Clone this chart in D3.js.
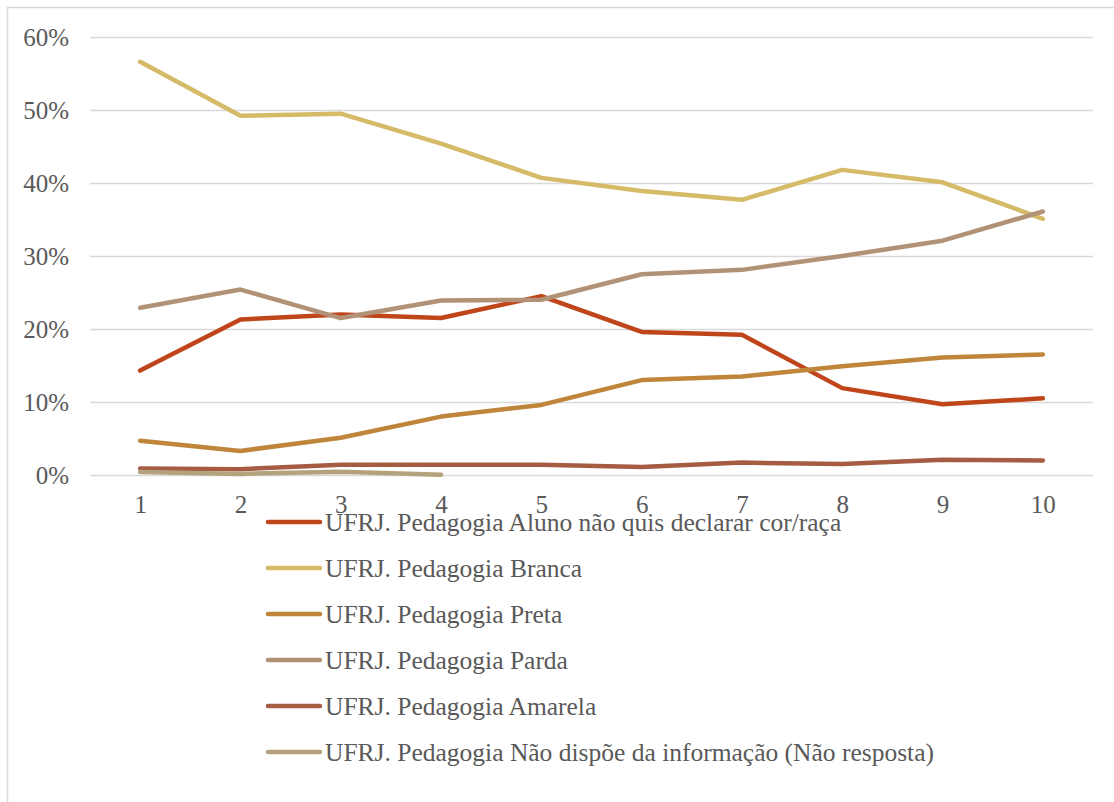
<!DOCTYPE html>
<html>
<head>
<meta charset="utf-8">
<script src="https://cdn.jsdelivr.net/npm/d3@7"></script>
<style>
  html, body { margin: 0; padding: 0; background: #fff; }
  svg { display: block; font-family: 'Liberation Serif', 'Times New Roman', serif; }
  svg text { font-family: 'Liberation Serif', 'Times New Roman', serif; fill: #595959; }
</style>
</head>
<body>
<svg id="chart" width="1114" height="802"></svg>
<script>
// Semesters on the x axis
const categories = ["1", "2", "3", "4", "5", "6", "7", "8", "9", "10"];

// Share of students by self-declared colour/race (fraction of total)
const alunoNaoDeclarou = [0.143, 0.213, 0.220, 0.215, 0.245, 0.196, 0.192, 0.119, 0.097, 0.105];
const branca           = [0.566, 0.492, 0.495, 0.454, 0.407, 0.389, 0.377, 0.418, 0.401, 0.351];
const preta            = [0.047, 0.033, 0.051, 0.080, 0.096, 0.130, 0.135, 0.149, 0.161, 0.165];
const parda            = [0.229, 0.254, 0.215, 0.239, 0.240, 0.275, 0.281, 0.300, 0.321, 0.361];
const amarela          = [0.009, 0.008, 0.014, 0.014, 0.014, 0.011, 0.017, 0.015, 0.021, 0.020];
const naoResposta      = [0.004, 0.0015, 0.0045, 0.0005, null, null, null, null, null, null];

const yTicks = [0, 0.1, 0.2, 0.3, 0.4, 0.5, 0.6];

const seriesNames = [
  "UFRJ. Pedagogia Aluno não quis declarar cor/raça",
  "UFRJ. Pedagogia Branca",
  "UFRJ. Pedagogia Preta",
  "UFRJ. Pedagogia Parda",
  "UFRJ. Pedagogia Amarela",
  "UFRJ. Pedagogia Não dispõe da informação (Não resposta)"
];
const seriesColors = ["#C1451B", "#D5BA68", "#BE853B", "#B29276", "#A65B43", "#B3A27C"];

const series = [alunoNaoDeclarou, branca, preta, parda, amarela, naoResposta].map((vals, i) => ({
  name: seriesNames[i],
  color: seriesColors[i],
  values: vals
}));

const svg = d3.select("#chart");

// Outer chart frame
svg.append("rect")
  .attr("x", 7.5).attr("y", 7.5)
  .attr("width", 1120).attr("height", 810)
  .attr("fill", "none").attr("stroke", "#D9D9D9").attr("stroke-width", 1.5);

const plot = { left: 90, right: 1093, top: 37, bottom: 475 };

const x = d3.scalePoint()
  .domain(categories)
  .range([plot.left, plot.right])
  .padding(0.5);

const y = d3.scaleLinear()
  .domain([0, 0.6])
  .range([plot.bottom, plot.top]);

// Horizontal gridlines and y labels
const yAxis = d3.axisLeft(y)
  .tickValues(yTicks)
  .tickSize(-(plot.right - plot.left))
  .tickPadding(21)
  .tickFormat(d3.format(".0%"));

const gy = svg.append("g")
  .attr("transform", `translate(${plot.left},0)`)
  .call(yAxis)
  .attr("font-family", null);
gy.select(".domain").remove();
gy.selectAll(".tick line").attr("stroke", "#D9D9D9").attr("stroke-width", 1.5);
gy.selectAll(".tick text")
  .attr("font-size", 25)
  .attr("dy", "0.34em");

// x labels
const xAxis = d3.axisBottom(x).tickSize(0).tickPadding(20);
const gx = svg.append("g")
  .attr("transform", `translate(0,${plot.bottom})`)
  .call(xAxis)
  .attr("font-family", null);
gx.select(".domain").remove();
gx.selectAll(".tick text")
  .attr("font-size", 25);

// Series lines
const line = d3.line()
  .defined(d => d.v !== null)
  .x(d => x(d.c))
  .y(d => y(d.v));

svg.append("g")
  .selectAll("path")
  .data(series)
  .join("path")
  .attr("d", s => line(s.values.map((v, i) => ({ c: categories[i], v }))))
  .attr("fill", "none")
  .attr("stroke", s => s.color)
  .attr("stroke-width", 4.5)
  .attr("stroke-linecap", "round")
  .attr("stroke-linejoin", "round");

// Legend, stacked below the plot
const legend = svg.append("g").attr("transform", "translate(268,522)");
const rows = legend.selectAll("g")
  .data(series)
  .join("g")
  .attr("transform", (d, i) => `translate(0,${i * 46})`);
rows.append("line")
  .attr("x1", 0).attr("x2", 52)
  .attr("y1", 0).attr("y2", 0)
  .attr("stroke", d => d.color)
  .attr("stroke-width", 4.5)
  .attr("stroke-linecap", "round");
rows.append("text")
  .attr("x", 57)
  .attr("y", 8.5)
  .attr("font-size", 25.5)
  .text(d => d.name);
</script>
</body>
</html>
